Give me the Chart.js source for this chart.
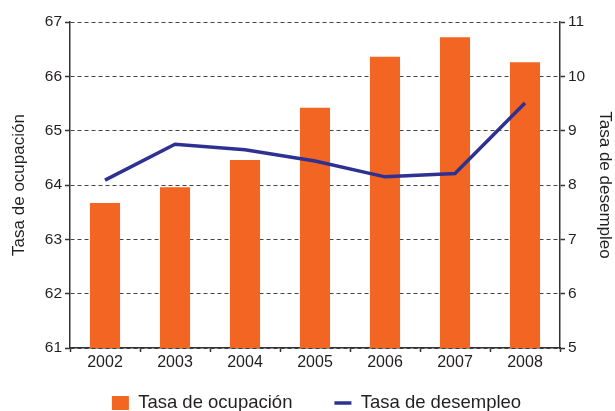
<!DOCTYPE html>
<html>
<head>
<meta charset="utf-8">
<script src="https://cdn.jsdelivr.net/npm/chart.js@4/dist/chart.umd.min.js"></script>
<style>
  body { margin: 0; background: #ffffff; }
  canvas { display: block; }
</style>
</head>
<body>
<canvas id="grafica" width="615" height="411"></canvas>
<script>
// Datos
const anios = ['2002', '2003', '2004', '2005', '2006', '2007', '2008'];
const tasaOcupacion = [63.67, 63.96, 64.46, 65.42, 66.36, 66.72, 66.26];
const tasaDesempleo = [8.09, 8.75, 8.65, 8.44, 8.15, 8.21, 9.51];
const rangoOcupacion = [61, 67];
const rangoDesempleo = [5, 11];

const fuente = 'Liberation Sans, Arial, Helvetica, sans-serif';
const colorTexto = '#231f20';
const colorEje = '#333333';

// Plugin para acomodar la leyenda debajo del eje X
const ajusteLeyenda = {
    id: 'ajusteLeyenda',
    beforeInit(chart) {
        const fitOriginal = chart.legend.fit;
        chart.legend.fit = function() {
            fitOriginal.bind(chart.legend)();
            this.height = 33;
        };
    },
    afterLayout(chart) {
        const leyenda = chart.legend;
        const padding = leyenda.options.labels.padding;
        leyenda.top = 393.75 - padding;
        leyenda.bottom = chart.height;
        leyenda.left += 9;
        leyenda.right += 9;
    }
};

let ctx = document.getElementById('grafica').getContext('2d');

window.myChart = new Chart(ctx, {
    type: 'bar',
    data: {
        labels: anios,
        datasets: [
            {
                label: 'Tasa de ocupación',
                data: tasaOcupacion,
                backgroundColor: '#f26522',
                borderColor: '#f26522',
                borderWidth: 0,
                categoryPercentage: 1,
                barPercentage: 0.43,
                yAxisID: 'yOcupacion',
                order: 1
            },
            {
                type: 'line',
                label: 'Tasa de desempleo',
                data: tasaDesempleo,
                borderColor: '#2e3192',
                backgroundColor: '#2e3192',
                borderWidth: 3.5,
                pointRadius: 0,
                tension: 0,
                yAxisID: 'yDesempleo',
                order: 0
            }
        ]
    },
    options: {
        responsive: false,
        animation: false,
        devicePixelRatio: 1,
        layout: { padding: { top: 22, left: 0, right: 0, bottom: 0 } },
        plugins: {
            tooltip: { enabled: false },
            legend: {
                position: 'bottom',
                labels: {
                    usePointStyle: true,
                    pointStyleWidth: 17,
                    boxHeight: 14,
                    padding: 42,
                    color: colorTexto,
                    font: { family: fuente, size: 18.5 },
                    sort: (a, b) => a.datasetIndex - b.datasetIndex,
                    generateLabels(chart) {
                        const items = Chart.defaults.plugins.legend.labels.generateLabels(chart);
                        items.forEach(item => {
                            item.pointStyle = item.datasetIndex === 0 ? 'rect' : 'line';
                        });
                        return items;
                    }
                }
            }
        },
        scales: {
            x: {
                offset: true,
                grid: {
                    offset: true,
                    drawOnChartArea: false,
                    drawTicks: true,
                    tickLength: 4,
                    tickColor: colorEje,
                    tickWidth: 1.5
                },
                border: { display: true, color: colorEje, width: 1.5 },
                ticks: {
                    color: colorTexto,
                    padding: 1,
                    font: { family: fuente, size: 16 }
                },
                afterFit(scale) { scale.height = 30; }
            },
            yOcupacion: {
                type: 'linear',
                position: 'left',
                min: rangoOcupacion[0],
                max: rangoOcupacion[1],
                ticks: {
                    stepSize: 1,
                    color: colorTexto,
                    padding: 3,
                    font: { family: fuente, size: 15.5 }
                },
                grid: {
                    color: '#444444',
                    lineWidth: 1,
                    tickLength: 5,
                    tickColor: colorEje,
                    tickWidth: 1.5
                },
                border: { display: true, color: colorEje, width: 1.5, dash: [4, 3] },
                title: {
                    display: true,
                    text: 'Tasa de ocupación',
                    color: colorTexto,
                    font: { family: fuente, size: 17 },
                    padding: { top: 8.8, bottom: 0 }
                },
                afterFit(scale) { scale.width = 70; }
            },
            yDesempleo: {
                type: 'linear',
                position: 'right',
                min: rangoDesempleo[0],
                max: rangoDesempleo[1],
                ticks: {
                    stepSize: 1,
                    color: colorTexto,
                    padding: 3,
                    font: { family: fuente, size: 15.5 }
                },
                grid: {
                    drawOnChartArea: false,
                    tickLength: 5,
                    tickColor: colorEje,
                    tickWidth: 1.5
                },
                border: { display: true, color: colorEje, width: 1.5 },
                title: {
                    display: true,
                    text: 'Tasa de desempleo',
                    color: colorTexto,
                    font: { family: fuente, size: 17 },
                    padding: { top: 0, bottom: 0 }
                },
                afterFit(scale) { scale.width = 55; }
            }
        }
    },
    plugins: [ajusteLeyenda]
});
</script>
</body>
</html>
